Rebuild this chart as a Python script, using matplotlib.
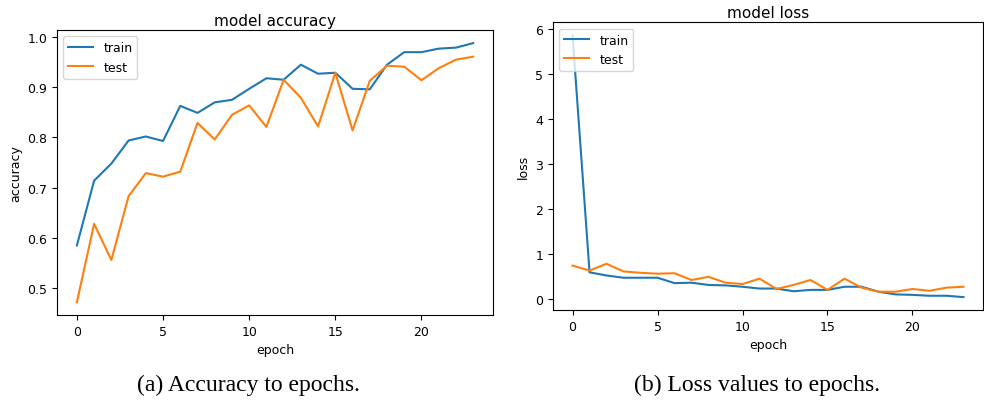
"""
Training history curves: accuracy and loss per epoch.
"""

import numpy as np
import matplotlib.pyplot as plt

# values read from the training history
epochs = np.arange(24)

train_acc = [0.585, 0.714, 0.748, 0.794, 0.802, 0.793, 0.863, 0.849, 0.870, 0.875,
             0.897, 0.918, 0.915, 0.945, 0.927, 0.929, 0.897, 0.896, 0.945, 0.970,
             0.970, 0.977, 0.979, 0.988]
test_acc = [0.472, 0.628, 0.556, 0.683, 0.729, 0.722, 0.732, 0.829, 0.796, 0.845,
            0.864, 0.821, 0.915, 0.879, 0.822, 0.929, 0.814, 0.913, 0.943, 0.941,
            0.914, 0.938, 0.955, 0.961]

train_loss = [5.85, 0.59, 0.52, 0.47, 0.47, 0.47, 0.35, 0.36, 0.31, 0.30,
              0.27, 0.23, 0.23, 0.17, 0.20, 0.20, 0.27, 0.27, 0.16, 0.10,
              0.09, 0.07, 0.07, 0.04]
test_loss = [0.74, 0.63, 0.78, 0.61, 0.58, 0.56, 0.57, 0.42, 0.49, 0.36,
             0.33, 0.45, 0.22, 0.31, 0.42, 0.20, 0.45, 0.25, 0.16, 0.16,
             0.22, 0.18, 0.25, 0.27]

captions = ['(a) Accuracy to epochs.', '(b) Loss values to epochs.']

fig = plt.figure(figsize=(9.84, 4.10), dpi=100)
ax1 = fig.add_axes([0.058, 0.229, 0.443, 0.695])
ax2 = fig.add_axes([0.562, 0.241, 0.437, 0.702])

for ax, tr, te, title, ylab in [(ax1, train_acc, test_acc, 'model accuracy', 'accuracy'),
                                (ax2, train_loss, test_loss, 'model loss', 'loss')]:
    ax.plot(epochs, tr, color='#1f77b4', lw=1.5, label='train')
    ax.plot(epochs, te, color='#ff7f0e', lw=1.5, label='test')
    ax.set_title(title, fontsize=11, pad=4)
    ax.set_xlabel('epoch', fontsize=9)
    ax.set_ylabel(ylab, fontsize=9)
    ax.tick_params(labelsize=9)
    ax.set_xticks([0, 5, 10, 15, 20])
    ax.legend(loc='upper left', fontsize=9)

ax1.set_yticks([0.5, 0.6, 0.7, 0.8, 0.9, 1.0])
ax2.set_yticks([0, 1, 2, 3, 4, 5, 6])

fig.text(0.252, 0.061, captions[0], ha='center', va='center',
         family='Liberation Serif', fontsize=17)
fig.text(0.769, 0.061, captions[1], ha='center', va='center',
         family='Liberation Serif', fontsize=17)

plt.savefig('out.png', dpi=100)
plt.close()
